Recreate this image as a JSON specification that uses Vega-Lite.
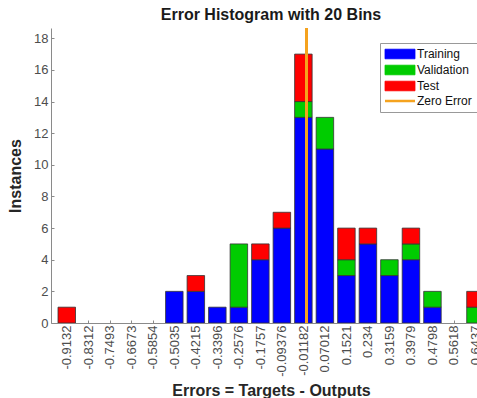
{
  "$schema": "https://vega.github.io/schema/vega-lite/v6.json",
  "autosize": {"type": "none"},
  "padding": {"left": 51, "top": 28, "right": 0, "bottom": 75},
  "width": 426,
  "height": 295,
  "background": "white",
  "config": {
    "font": "Liberation Sans",
    "view": {"stroke": null},
    "axis": {"grid": false, "domainColor": "#8a8a8a", "tickColor": "#8a8a8a", "labelColor": "#4d4d4d", "labelFont": "Liberation Sans", "titleFont": "Liberation Sans", "titleColor": "#262626"}
  },
  "title": {"text": "Error Histogram with 20 Bins", "fontSize": 16, "fontWeight": "bold", "color": "#1a1a1a", "offset": 4, "dx": 7, "anchor": "middle"},
  "data": {"values": [
    {"center": -0.9132, "set": "Test", "k": 3, "count": 1},
    {"center": -0.5035, "set": "Training", "k": 1, "count": 2},
    {"center": -0.4215, "set": "Training", "k": 1, "count": 2},
    {"center": -0.4215, "set": "Test", "k": 3, "count": 1},
    {"center": -0.3396, "set": "Training", "k": 1, "count": 1},
    {"center": -0.2576, "set": "Training", "k": 1, "count": 1},
    {"center": -0.2576, "set": "Validation", "k": 2, "count": 4},
    {"center": -0.1757, "set": "Training", "k": 1, "count": 4},
    {"center": -0.1757, "set": "Test", "k": 3, "count": 1},
    {"center": -0.09376, "set": "Training", "k": 1, "count": 6},
    {"center": -0.09376, "set": "Test", "k": 3, "count": 1},
    {"center": -0.01182, "set": "Training", "k": 1, "count": 13},
    {"center": -0.01182, "set": "Validation", "k": 2, "count": 1},
    {"center": -0.01182, "set": "Test", "k": 3, "count": 3},
    {"center": 0.07012, "set": "Training", "k": 1, "count": 11},
    {"center": 0.07012, "set": "Validation", "k": 2, "count": 2},
    {"center": 0.1521, "set": "Training", "k": 1, "count": 3},
    {"center": 0.1521, "set": "Validation", "k": 2, "count": 1},
    {"center": 0.1521, "set": "Test", "k": 3, "count": 2},
    {"center": 0.234, "set": "Training", "k": 1, "count": 5},
    {"center": 0.234, "set": "Test", "k": 3, "count": 1},
    {"center": 0.3159, "set": "Training", "k": 1, "count": 3},
    {"center": 0.3159, "set": "Validation", "k": 2, "count": 1},
    {"center": 0.3979, "set": "Training", "k": 1, "count": 4},
    {"center": 0.3979, "set": "Validation", "k": 2, "count": 1},
    {"center": 0.3979, "set": "Test", "k": 3, "count": 1},
    {"center": 0.4798, "set": "Training", "k": 1, "count": 1},
    {"center": 0.4798, "set": "Validation", "k": 2, "count": 1},
    {"center": 0.6437, "set": "Validation", "k": 2, "count": 1},
    {"center": 0.6437, "set": "Test", "k": 3, "count": 1}
  ]},
  "encoding": {
    "x": {
      "field": "center", "type": "quantitative",
      "scale": {"domain": [-0.9542, 0.6305], "nice": false, "zero": false},
      "axis": {
        "values": [-0.9132, -0.8312, -0.7493, -0.6673, -0.5854, -0.5035, -0.4215, -0.3396, -0.2576, -0.1757, -0.09376, -0.01182, 0.07012, 0.1521, 0.234, 0.3159, 0.3979, 0.4798, 0.5618, 0.6437],
        "labelExpr": "'' + datum.value",
        "labelAngle": -90, "labelFontSize": 13, "labelPadding": 5, "labelOverlap": false, "labelBound": false, "labelFlush": false,
        "tickSize": -3, "title": "Errors = Targets - Outputs", "titleFontSize": 16, "titleFontWeight": "bold", "titleX": 220, "titlePadding": 6
      }
    }
  },
  "layer": [
    {
      "mark": {"type": "bar", "width": 17.5, "stroke": "#333333", "strokeWidth": 0.8, "clip": true},
      "encoding": {
        "y": {
          "field": "count", "type": "quantitative", "stack": "zero",
          "scale": {"domain": [0, 18.65], "nice": false},
          "axis": {"values": [0, 2, 4, 6, 8, 10, 12, 14, 16, 18], "labelFontSize": 13, "labelPadding": 6, "tickSize": -3, "title": "Instances", "titleFontSize": 16, "titleFontWeight": "bold", "titlePadding": 10}
        },
        "order": {"field": "k", "type": "quantitative"},
        "color": {
          "field": "set", "type": "nominal",
          "scale": {"domain": ["Training", "Validation", "Test", "Zero Error"], "range": ["#0000FF", "#00CC00", "#FF0000", "#F5A31F"]},
          "legend": {
            "title": null, "orient": "none", "legendX": 329, "legendY": 15,
            "padding": 5, "rowPadding": 2, "labelFontSize": 12, "labelColor": "#111111",
            "strokeColor": "#999999", "fillColor": "white",
            "symbolSize": 144, "symbolOffset": 9, "labelOffset": 11,
            "symbolType": {"expr": "datum.label === 'Zero Error' ? 'M-2.5,0H2.5' : 'M-2.5,-0.8H2.5V0.8H-2.5Z'"},
            "symbolStrokeColor": {"expr": "datum.label === 'Zero Error' ? '#F5A31F' : '#222222'"},
            "symbolStrokeWidth": {"expr": "datum.label === 'Zero Error' ? 2.5 : 0.8"},
            "symbolOpacity": 1
          }
        }
      }
    },
    {
      "mark": {"type": "rule", "strokeWidth": 2.5},
      "encoding": {
        "x": {"datum": 0},
        "color": {"datum": "Zero Error", "legend": null}
      }
    }
  ]
}
